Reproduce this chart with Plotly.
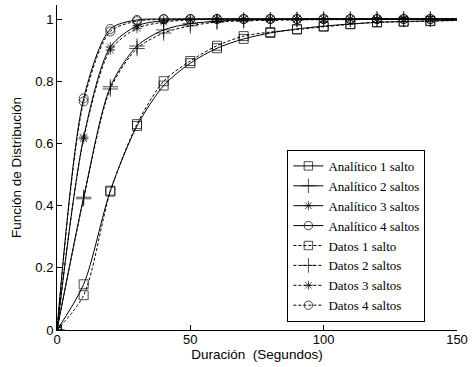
import plotly.graph_objects as go

t = [0, 10, 20, 30, 40, 50, 60, 70, 80, 90, 100, 110, 120, 130, 140, 150]

analitico_1 = [0, 0.147, 0.448, 0.656, 0.786, 0.858, 0.906, 0.936, 0.955, 0.968, 0.977, 0.984, 0.989, 0.992, 0.994, 0.996]
analitico_2 = [0, 0.427, 0.782, 0.913, 0.965, 0.985, 0.993, 0.997, 0.998, 0.999, 1.0, 1.0, 1.0, 1.0, 1.0, 1.0]
analitico_3 = [0, 0.620, 0.910, 0.978, 0.995, 0.999, 1.0, 1.0, 1.0, 1.0, 1.0, 1.0, 1.0, 1.0, 1.0, 1.0]
analitico_4 = [0, 0.745, 0.968, 0.997, 1.0, 1.0, 1.0, 1.0, 1.0, 1.0, 1.0, 1.0, 1.0, 1.0, 1.0, 1.0]

datos_1 = [0, 0.112, 0.445, 0.662, 0.800, 0.865, 0.914, 0.945, 0.958, 0.966, 0.975, 0.983, 0.990, 0.991, 0.993, 0.995]
datos_2 = [0, 0.422, 0.775, 0.905, 0.955, 0.978, 0.990, 0.994, 0.996, 0.997, 0.998, 0.998, 0.999, 0.999, 0.999, 0.999]
datos_3 = [0, 0.615, 0.900, 0.970, 0.990, 0.997, 0.999, 1.0, 1.0, 1.0, 1.0, 1.0, 1.0, 1.0, 1.0, 1.0]
datos_4 = [0, 0.735, 0.960, 0.993, 0.999, 1.0, 1.0, 1.0, 1.0, 1.0, 1.0, 1.0, 1.0, 1.0, 1.0, 1.0]

names = ["Analítico 1 salto", "Analítico 2 saltos", "Analítico 3 saltos", "Analítico 4 saltos",
         "Datos 1 salto", "Datos 2 saltos", "Datos 3 saltos", "Datos 4 saltos"]

x_ticks = [0, 50, 100, 150]
y_ticks = [0, 0.2, 0.4, 0.6, 0.8, 1]
y_ticktext = ["0", "0.2", "0.4", "0.6", "0.8", "1"]

series = [analitico_1, analitico_2, analitico_3, analitico_4, datos_1, datos_2, datos_3, datos_4]
symbols = ["square-open", "cross-thin-open", "asterisk-open", "circle-open"] * 2
base_sizes = [9, 11, 8, 9] * 2

fig = go.Figure()
for i, (name, ys) in enumerate(zip(names, series)):
    dashed = i >= 4
    sizes = [base_sizes[i]] * (len(t) - 1) + [0]
    fig.add_trace(go.Scatter(
        x=t, y=ys, name=name, mode="lines+markers",
        line=dict(color="black", width=1, shape="spline", smoothing=0.8,
                  dash="3px,2px" if dashed else "solid"),
        marker=dict(symbol=symbols[i], size=sizes, color="black",
                    line=dict(color="black", width=1)),
    ))

fig.update_layout(
    width=473, height=367,
    margin=dict(l=57, r=8, t=5, b=37),
    paper_bgcolor="white", plot_bgcolor="white",
    font=dict(family="Liberation Sans, Arial, sans-serif", size=13, color="black"),
    showlegend=True,
    legend=dict(
        x=0.576, y=0.554, xanchor="left", yanchor="top",
        bgcolor="white", bordercolor="black", borderwidth=1,
        font=dict(family="Liberation Serif, Times New Roman, serif", size=13, color="black"),
        tracegroupgap=0,
    ),
)
fig.update_xaxes(
    range=[0, 150], tickvals=x_ticks, ticks="inside", ticklen=5, tickcolor="black",
    showline=True, linecolor="black", linewidth=1, showgrid=False, zeroline=False,
    ticklabeloverflow="allow", ticklabelstandoff=-3,
    title=dict(text="Duración  (Segundos)", standoff=0, font=dict(size=13.5)),
)
fig.update_yaxes(
    range=[0, 1.045], tickvals=y_ticks, ticktext=y_ticktext, ticks="inside", ticklen=5,
    tickcolor="black", showline=True, linecolor="black", linewidth=1, showgrid=False,
    zeroline=False, title=dict(text="Función de Distribución", standoff=10, font=dict(size=13.5)),
)

fig.write_html("out.html")
